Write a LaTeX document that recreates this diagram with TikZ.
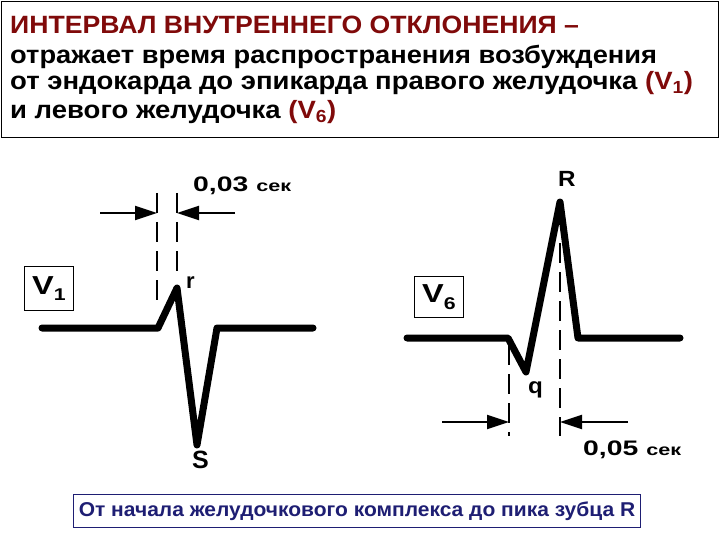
\documentclass[tikz,border=0pt]{standalone}
\usepackage{fontspec}
\setmainfont{Liberation Sans}
\usetikzlibrary{arrows.meta}
\definecolor{titlered}{RGB}{128,10,10}
\definecolor{navy}{RGB}{30,30,115}
\newcommand{\wide}[2]{\scalebox{#1}[1]{#2}}
\tikzset{
  ecg/.style={line width=7pt,line cap=round,line join=round},
  guide/.style={line width=2pt,dash pattern=on 20pt off 9pt},
  dimarrow/.style={line width=2pt,-{Triangle[length=22pt,width=14pt]}},
  ttl/.style={anchor=base west,inner sep=0pt,font=\bfseries\fontsize{25}{28}\selectfont},
  lbl/.style={inner sep=0pt,font=\bfseries\fontsize{22}{26}\selectfont},
  leadbox/.style={draw,line width=0.8pt,inner sep=0pt,minimum width=49pt,minimum height=44pt,font=\bfseries\fontsize{26}{30}\selectfont}
}
\begin{document}
\begin{tikzpicture}[x=1pt,y=-1pt]
\useasboundingbox (0,0) rectangle (720,540);
% title frame
\node[draw,line width=1.2pt,minimum width=717pt,minimum height=136pt,inner sep=0pt,anchor=north west] (frame) at (1,1) {};
\node[ttl,text=titlered] (t1) at (10,34) {\wide{1.065}{ИНТЕРВАЛ ВНУТРЕННЕГО ОТКЛОНЕНИЯ –}};
\node[ttl] (t2) at (10,64) {\wide{1.09}{отражает время распространения возбуждения}};
\node[ttl] (t3) at (10,90) {\wide{1.1}{от эндокарда до эпикарда правого желудочка \textcolor{titlered}{(V$_{\mathbf 1}$)}}};
\node[ttl] (t4) at (10,119) {\wide{1.1}{и левого желудочка \textcolor{titlered}{(V$_{\mathbf 6}$)}}};

% ---- V1 ----
\node[leadbox,anchor=north west] (v1box) at (24,266) {\wide{1.25}{V\raisebox{-6pt}{\fontsize{17}{20}\selectfont 1}}};
\coordinate (a0) at (42,328);
\coordinate (a1) at (158,328);
\coordinate (rpk) at (177,288);
\coordinate (spk) at (197,445);
\coordinate (a2) at (217,328);
\coordinate (a3) at (313,328);
\draw[ecg] (a0) -- (a1) -- (rpk) -- (spk) -- (a2) -- (a3);
\coordinate (d1t) at (157,193);
\coordinate (d1b) at (157,307);
\coordinate (d2t) at (177,193);
\coordinate (d2b) at (177,280);
\draw[guide] (d1t) -- (d1b);
\draw[guide] (d2t) -- (d2b);
\coordinate (ar1s) at (100,213);
\coordinate (ar1e) at (157,213);
\coordinate (ar2s) at (235,213);
\coordinate (ar2e) at (177,213);
\draw[dimarrow] (ar1s) -- (ar1e);
\draw[dimarrow] (ar2s) -- (ar2e);
\node[lbl,anchor=base west,font=\bfseries\fontsize{21}{24}\selectfont] (t003) at (193,192) {\wide{1.35}{0,03 \fontsize{16}{18}\selectfont сек}};
\node[lbl,anchor=base west] (rlab) at (186,288) {r};
\node[lbl,anchor=base west,font=\bfseries\fontsize{25}{28}\selectfont] (slab) at (192,468) {S};

% ---- V6 ----
\node[leadbox,anchor=north west,minimum height=41pt] (v6box) at (414,276) {\wide{1.25}{V\raisebox{-7pt}{\fontsize{17}{20}\selectfont 6}}};
\coordinate (b0) at (407,338);
\coordinate (b1) at (508,338);
\coordinate (qpk) at (526,372);
\coordinate (Rpk) at (560,202);
\coordinate (b2) at (578,338);
\coordinate (b3) at (680,338);
\draw[ecg] (b0) -- (b1) -- (qpk) -- (Rpk) -- (b2) -- (b3);
\coordinate (d3t) at (509,345);
\coordinate (d3b) at (509,436);
\coordinate (d4t) at (560,243);
\coordinate (d4b) at (560,436);
\draw[guide] (d3t) -- (d3b);
\draw[guide] (d4t) -- (d4b);
\coordinate (ar3s) at (442,422);
\coordinate (ar3e) at (509,422);
\coordinate (ar4s) at (628,422);
\coordinate (ar4e) at (560,422);
\draw[dimarrow] (ar3s) -- (ar3e);
\draw[dimarrow] (ar4s) -- (ar4e);
\node[lbl,anchor=base west] (Rlab) at (558,187) {\wide{1.1}{R}};
\node[lbl,anchor=base west] (qlab) at (528,393) {\wide{1.1}{q}};
\node[lbl,anchor=base west,font=\bfseries\fontsize{21}{24}\selectfont] (t005) at (583,455) {\wide{1.35}{0,05 \fontsize{16}{18}\selectfont сек}};

% ---- bottom ----
\node[draw=navy,line width=1pt,minimum width=567pt,minimum height=33pt,inner sep=0pt,anchor=north west] (bbox) at (73,494) {};
\node[inner sep=0pt,text=navy,font=\bfseries\fontsize{20}{22}\selectfont] (btext) at (bbox.center) {\wide{1.05}{От начала желудочкового комплекса до пика зубца R}};
\end{tikzpicture}
\end{document}
